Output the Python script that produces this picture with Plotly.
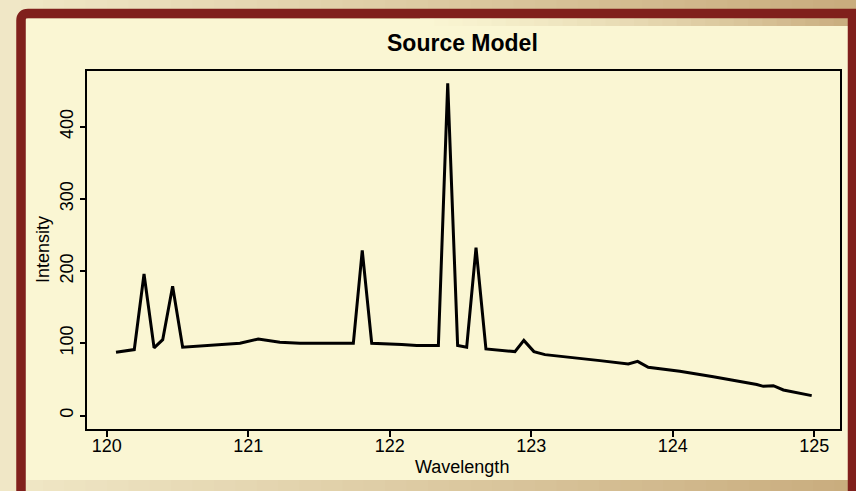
import plotly.graph_objects as go

# Source model spectrum: wavelength vs. intensity
wavelength = [120.066, 120.195, 120.264, 120.335, 120.396, 120.466, 120.537, 120.753,
              120.942, 121.071, 121.224, 121.366, 121.743, 121.806, 121.873, 122.085,
              122.191, 122.344, 122.410, 122.480, 122.544, 122.610, 122.680, 122.885,
              122.948, 123.019, 123.097, 123.486, 123.686, 123.752, 123.827, 124.050,
              124.287, 124.594, 124.640, 124.711, 124.782, 124.982]
intensity = [87.5, 91.3, 196.0, 93.6, 105.0, 179.0, 94.5, 97.8,
             100.0, 106.0, 101.4, 100.0, 100.0, 228.6, 100.0, 98.2,
             96.8, 96.8, 460.0, 96.8, 94.5, 232.4, 92.2, 88.5,
             104.0, 88.5, 84.3, 76.0, 71.4, 75.0, 66.7, 61.2,
             53.8, 43.0, 40.4, 41.3, 35.4, 27.5]

x_ticks = [120, 121, 122, 123, 124, 125]
y_ticks = [0, 100, 200, 300, 400]

FIG_W, FIG_H = 856, 491
ML, MR, MT, MB = 87, 16, 71, 62
PW, PH = FIG_W - ML - MR, FIG_H - MT - MB

FONT = "Liberation Sans, Arial, Helvetica, sans-serif"
MAROON = "#80201C"
TAN_LIGHT = (240, 231, 198)
TAN_DARK = (201, 173, 126)
CREAM_RGB = (250, 246, 211)


def px(x):
    return (x - ML) / PW


def py(y):
    return (FIG_H - MB - y) / PH


def blend(c1, c2, t):
    return tuple(round(a + (b - a) * t) for a, b in zip(c1, c2))


def rgb(c):
    return "rgb(%d,%d,%d)" % c


def rect(x0, y0, x1, y1, color):
    return dict(type="rect", xref="paper", yref="paper", layer="below",
                x0=px(x0), x1=px(x1), y0=py(y1), y1=py(y0),
                fillcolor=color, line=dict(width=0))


shapes = []

# warm gradient backdrop
n = 40
for i in range(n):
    x0 = FIG_W * i / n
    x1 = FIG_W * (i + 1) / n + 1
    shapes.append(rect(x0, -2, x1, FIG_H + 2, rgb(blend(TAN_LIGHT, TAN_DARK, i / (n - 1)))))

# cream panel
shapes.append(rect(26, 19, 848, 480, rgb(CREAM_RGB)))

# shaded band along the top of the panel, fading in towards the right
m = 30
x_start, x_end = 420, 848
for i in range(m):
    x0 = x_start + (x_end - x_start) * i / m
    x1 = x_start + (x_end - x_start) * (i + 1) / m + 1
    edge = blend(TAN_LIGHT, TAN_DARK, x0 / FIG_W)
    shapes.append(rect(x0, 18, x1, 26, rgb(blend(CREAM_RGB, edge, i / (m - 1)))))

# maroon frame with rounded top-left corner
r = 7
fx0, fy0, fx1, fy1 = 21, 13.5, 852.5, 496
path = ("M %f,%f L %f,%f Q %f,%f %f,%f L %f,%f L %f,%f" % (
    px(fx0), py(fy1), px(fx0), py(fy0 + r), px(fx0), py(fy0),
    px(fx0 + r), py(fy0), px(fx1), py(fy0), px(fx1), py(fy1)))
shapes.append(dict(type="path", xref="paper", yref="paper", layer="below",
                   path=path, line=dict(color=MAROON, width=9.5)))

fig = go.Figure()
fig.add_trace(go.Scatter(
    x=wavelength, y=intensity, mode="lines",
    line=dict(color="black", width=3),
    hoverinfo="skip", showlegend=False,
))

axis_common = dict(
    showgrid=False, zeroline=False, showline=True, mirror=True,
    linecolor="black", linewidth=2, ticks="outside", tickcolor="black",
    tickwidth=2, tickfont=dict(family=FONT, size=18, color="black"),
)

fig.update_xaxes(range=[119.861, 125.182], tickvals=x_ticks,
                 ticktext=[str(v) for v in x_ticks], ticklen=6,
                 ticklabelstandoff=-7, **axis_common)
fig.update_yaxes(range=[-18.7, 477.1], tickvals=y_ticks,
                 ticktext=[str(v) for v in y_ticks], ticklen=5, tickangle=-90,
                 **axis_common)

annotations = [
    dict(text="<b>Source Model</b>", x=px(462), y=py(43), xref="paper", yref="paper",
         showarrow=False, xanchor="center", yanchor="middle",
         font=dict(family=FONT, size=23, color="black")),
    dict(text="Wavelength", x=px(462), y=py(467), xref="paper", yref="paper",
         showarrow=False, xanchor="center", yanchor="middle",
         font=dict(family=FONT, size=18, color="black")),
    dict(text="Intensity", x=px(43), y=py(250), xref="paper", yref="paper",
         showarrow=False, xanchor="center", yanchor="middle", textangle=-90,
         font=dict(family=FONT, size=18, color="black")),
]

fig.update_layout(
    width=FIG_W, height=FIG_H,
    margin=dict(l=ML, r=MR, t=MT, b=MB, pad=0),
    paper_bgcolor="rgb(222,205,160)",
    plot_bgcolor="rgba(0,0,0,0)",
    shapes=shapes,
    annotations=annotations,
    showlegend=False,
)

fig.write_html("out.html", config={"displayModeBar": False})
